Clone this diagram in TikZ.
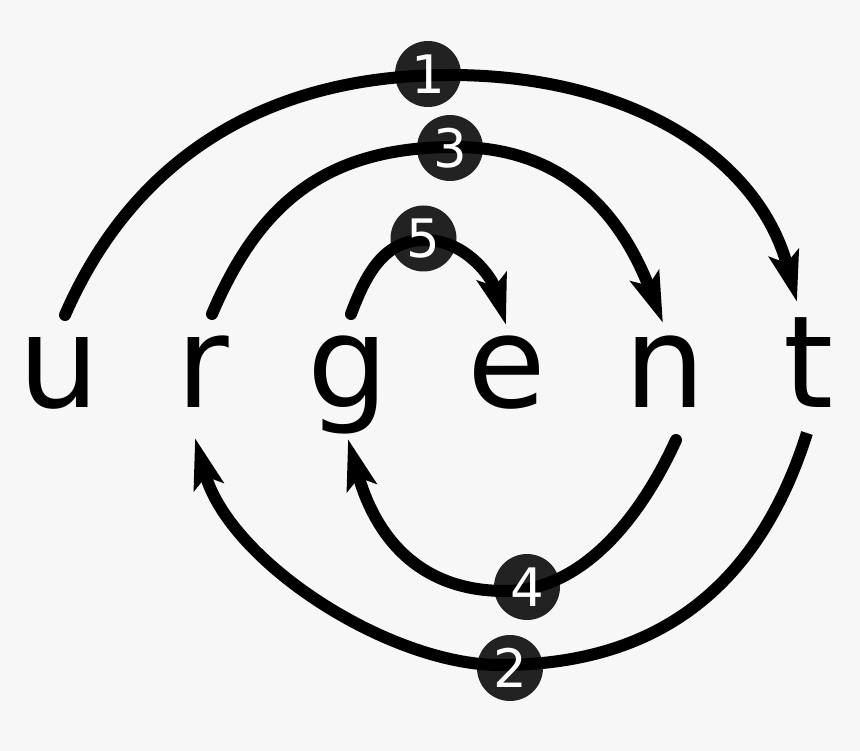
\documentclass[tikz,border=0pt]{standalone}
\usepackage{fontspec}
\setmainfont{DejaVu Sans}
\usetikzlibrary{arrows.meta}
\definecolor{bg}{HTML}{F7F7F7}
\definecolor{badgecol}{HTML}{222222}
\begin{document}
\begin{tikzpicture}[x=1pt,y=-1pt,
  letter/.style={font=\fontsize{128}{150}\selectfont, inner sep=0pt, anchor=base},
  badge/.style={circle, fill=badgecol, minimum size=66pt, inner sep=0pt},
  digit/.style={font=\fontsize{53}{60}\selectfont, text=white, inner sep=0pt},
  arcline/.style={line width=12pt, line cap=round, -{Stealth[length=50pt,width=30pt,inset=10pt]}},
]
\fill[bg] (0,0) rectangle (860,751);
\useasboundingbox (0,0) rectangle (860,751);

% letters
\node[letter] (u) at (58.8,407) {u};
\node[letter] (r) at (203,407) {r};
\node[letter] (g) at (348,407) {g};
\node[letter] (e) at (507,407) {e};
\node[letter] (n) at (665,407) {n};
\node[letter] (t) at (808.7,407) {t};

% badges
\node[badge] (c1) at (428,74) {};
\node[badge] (c3) at (450,148) {};
\node[badge] (c5) at (423.5,238.5) {};
\node[badge] (c4) at (527,587) {};
\node[badge] (c2) at (510,668) {};

% end points and turning points
\coordinate (s1) at (65,315);
\coordinate (m1) at (450,75);
\coordinate (e1) at (797,302);
\coordinate (s3) at (212,314);
\coordinate (m3) at (455,147);
\coordinate (e3) at (663,323);
\coordinate (s5) at (351,314);
\coordinate (m5) at (425,240);
\coordinate (e5) at (506,325);
\coordinate (s4) at (676,440);
\coordinate (m4) at (505,591);
\coordinate (e4) at (348,439);
\coordinate (s2) at (807,433);
\coordinate (m2) at (500,665);
\coordinate (e2) at (195,438);

% connectors
\draw[arcline] (s1) .. controls (133,159) and (265,75) .. (m1)
               .. controls (630,75) and (758,156.5) .. (e1);
\draw[arcline] (s3) .. controls (259,204) and (325,147) .. (m3)
               .. controls (570,147) and (623.4,221) .. (e3);
\draw[arcline] (s5) .. controls (366.8,271.7) and (385,240) .. (m5)
               .. controls (465,240) and (492,277) .. (e5);
\draw[arcline] (s4) .. controls (642.8,512.8) and (585,591) .. (m4)
               .. controls (410,591) and (372.3,525.4) .. (e4);
\draw[arcline, line cap=butt] (s2) .. controls (756,594.5) and (650,665) .. (m2)
               .. controls (390,665) and (230,562.8) .. (e2);

% digits
\node[digit] at (c1) {1};
\node[digit] at (c3) {3};
\node[digit] at (c5) {5};
\node[digit] at (c4) {4};
\node[digit] at (c2) {2};
\end{tikzpicture}
\end{document}
